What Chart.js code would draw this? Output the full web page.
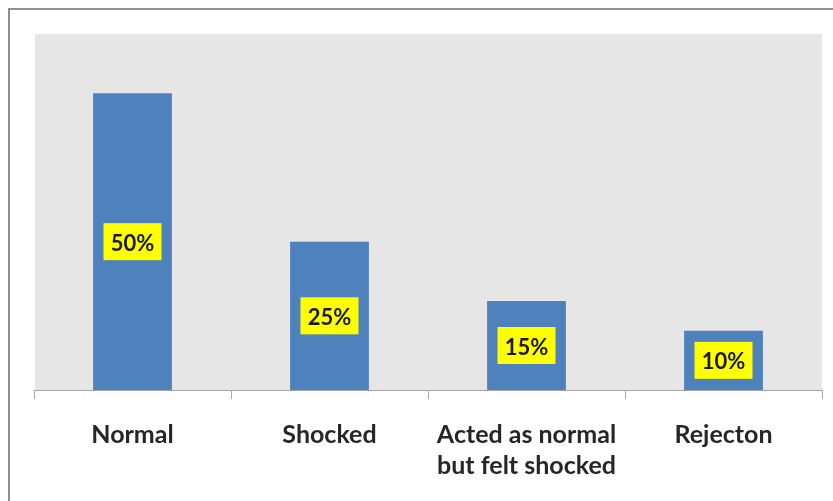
<!DOCTYPE html>
<html>
<head>
<meta charset="utf-8">
<script src="https://cdn.jsdelivr.net/npm/chart.js@4.4.0/dist/chart.umd.min.js"></script>
<style>
  html, body { margin: 0; padding: 0; background: #ffffff; }
  #wrap { width: 833px; height: 501px; position: relative; }
</style>
</head>
<body>
<div id="wrap"><canvas id="reactionChart" width="833" height="501"></canvas></div>
<script>
// Chart data
const categories = ['Normal', 'Shocked', ['Acted as normal', 'but felt shocked'], 'Rejecton'];
const values = [50, 25, 15, 10];
const valueLabels = ['50%', '25%', '15%', '10%'];

// Gray frame + plot area fill
const framePlugin = {
    id: 'frame',
    beforeDraw: function(chart) {
        const ctx = chart.ctx;
        const area = chart.chartArea;
        ctx.save();
        ctx.fillStyle = '#e6e6e6';
        ctx.fillRect(area.left + 1, area.top, area.right - area.left - 1, area.bottom - area.top);
        ctx.strokeStyle = '#8f8f8f';
        ctx.lineWidth = 2;
        ctx.beginPath();
        ctx.moveTo(9, 501);
        ctx.lineTo(9, 9);
        ctx.lineTo(833, 9);
        ctx.stroke();
        ctx.restore();
    }
};

// Yellow value boxes in the middle of each bar
const valueBoxPlugin = {
    id: 'valueBoxes',
    afterDatasetsDraw: function(chart) {
        const ctx = chart.ctx;
        const meta = chart.getDatasetMeta(0);
        ctx.save();
        ctx.font = 'bold 22px Lato, "DejaVu Sans", sans-serif';
        ctx.textAlign = 'center';
        ctx.textBaseline = 'middle';
        meta.data.forEach(function(bar, i) {
            const cy = (bar.y + bar.base) / 2;
            const w = 58, h = 37;
            ctx.fillStyle = '#ffff00';
            ctx.fillRect(bar.x - w / 2, cy - h / 2, w, h);
            ctx.fillStyle = '#1a1a1a';
            ctx.fillText(valueLabels[i], bar.x, cy + 2);
        });
        ctx.restore();
    }
};

const ctx = document.getElementById('reactionChart').getContext('2d');
new Chart(ctx, {
    type: 'bar',
    data: {
        labels: categories,
        datasets: [{
            data: values,
            backgroundColor: '#4f81bd',
            borderWidth: 0,
            categoryPercentage: 1.0,
            barPercentage: 0.4
        }]
    },
    options: {
        responsive: false,
        animation: false,
        layout: {
            padding: { left: 34, top: 34, right: 11, bottom: 0 }
        },
        plugins: {
            legend: { display: false },
            tooltip: { enabled: false }
        },
        scales: {
            x: {
                grid: {
                    display: true,
                    drawOnChartArea: false,
                    tickLength: 9,
                    color: '#a6a6a6',
                    offset: true
                },
                border: { color: '#a6a6a6', width: 1 },
                ticks: {
                    color: '#262626',
                    padding: 20,
                    maxRotation: 0,
                    autoSkip: false,
                    font: { family: 'Lato, "DejaVu Sans", sans-serif', size: 25, weight: 'bold', lineHeight: 1.25 }
                },
                afterFit: function(scale) {
                    scale.height = 111;
                }
            },
            y: {
                display: false,
                min: 0,
                max: 60
            }
        }
    },
    plugins: [framePlugin, valueBoxPlugin]
});
</script>
</body>
</html>
